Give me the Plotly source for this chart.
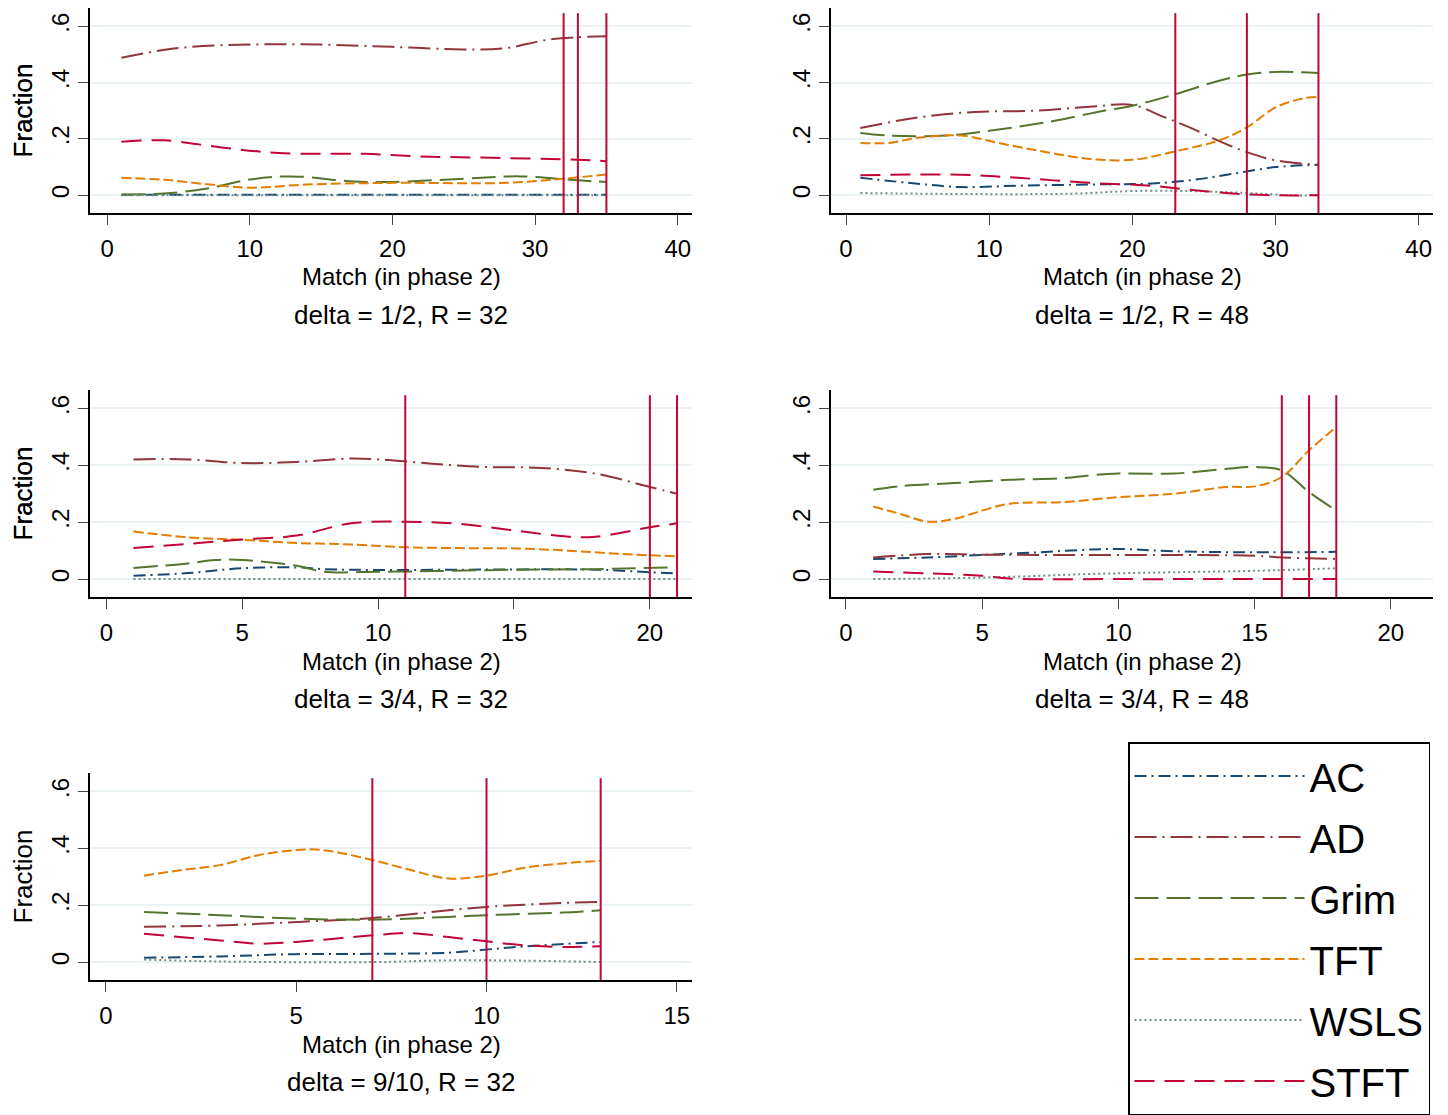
import plotly.graph_objects as go

W, H = 1448, 1115
OFF = 8  # page body margin in the browser

strategies = ["AC", "AD", "Grim", "TFT", "WSLS", "STFT"]
colors = {"AC": "#1a476f", "AD": "#90353b", "Grim": "#55752f",
          "TFT": "#e37e00", "WSLS": "#6e8e84", "STFT": "#c10534"}
dashes = {"AC": "12px,5px,2px,5px", "AD": "22px,6px,2px,6px", "Grim": "24px,8px",
          "TFT": "10px,4px", "WSLS": "2px,3px", "STFT": "20px,10px"}

titles = ["delta = 1/2, R = 32", "delta = 1/2, R = 48", "delta = 3/4, R = 32",
          "delta = 3/4, R = 48", "delta = 9/10, R = 32"]

# panel 1: delta = 1/2, R = 32
p1 = {
    "AC": ([1, 10, 20, 30, 35], [0.002, 0.002, 0.002, 0.002, 0.002]),
    "AD": ([1, 5, 10, 15, 20, 25, 28, 31, 35], [0.488, 0.523, 0.535, 0.535, 0.527, 0.518, 0.523, 0.553, 0.565]),
    "Grim": ([1, 4, 7, 10, 13, 17, 20, 25, 29, 33, 35], [0.003, 0.006, 0.024, 0.056, 0.067, 0.05, 0.047, 0.059, 0.067, 0.053, 0.047]),
    "TFT": ([1, 4, 7, 10, 14, 20, 28, 32, 35], [0.062, 0.055, 0.039, 0.027, 0.038, 0.044, 0.044, 0.059, 0.074]),
    "WSLS": ([1, 10, 20, 30, 35], [0, 0, 0, 0, 0]),
    "STFT": ([1, 4, 8, 12, 18, 22, 27, 33, 35], [0.19, 0.195, 0.17, 0.15, 0.147, 0.138, 0.133, 0.126, 0.121]),
}
# panel 2: delta = 1/2, R = 48
p2 = {
    "AC": ([1, 5, 8, 12, 18, 21, 24, 27, 30, 33], [0.062, 0.041, 0.029, 0.034, 0.039, 0.041, 0.053, 0.076, 0.1, 0.108]),
    "AD": ([1, 5, 9, 13, 17, 20, 22, 24, 26, 28, 30, 33], [0.239, 0.276, 0.296, 0.3, 0.314, 0.321, 0.282, 0.241, 0.194, 0.153, 0.124, 0.108]),
    "Grim": ([1, 3, 7, 10, 14, 18, 20, 23, 26, 28, 30, 33], [0.221, 0.212, 0.212, 0.229, 0.259, 0.3, 0.318, 0.359, 0.406, 0.429, 0.438, 0.434]),
    "TFT": ([1, 3, 5, 8, 11, 14, 17, 20, 23, 26, 28, 30, 32, 33], [0.186, 0.186, 0.204, 0.212, 0.182, 0.153, 0.129, 0.126, 0.156, 0.194, 0.241, 0.312, 0.345, 0.349]),
    "WSLS": ([1, 10, 16, 20, 24, 28, 31, 33], [0.008, 0.004, 0.006, 0.015, 0.015, 0.008, 0, 0]),
    "STFT": ([1, 8, 12, 17, 21, 24, 27, 30, 33], [0.071, 0.073, 0.062, 0.044, 0.035, 0.02, 0.006, 0, 0]),
}
# panel 3: delta = 3/4, R = 32
p3 = {
    "AC": ([1, 3, 5, 7, 8, 10, 13, 18, 20, 21], [0.012, 0.021, 0.038, 0.041, 0.035, 0.032, 0.033, 0.033, 0.024, 0.02]),
    "AD": ([1, 3, 5, 7, 9, 10, 12, 14, 16, 18, 20, 21], [0.421, 0.421, 0.408, 0.412, 0.424, 0.421, 0.406, 0.394, 0.391, 0.371, 0.324, 0.3]),
    "Grim": ([1, 3, 4, 5, 7, 8, 10, 12, 15, 18, 21], [0.039, 0.055, 0.067, 0.067, 0.047, 0.026, 0.026, 0.028, 0.033, 0.035, 0.042]),
    "TFT": ([1, 3, 5, 7, 9, 11, 13, 15, 17, 19, 21], [0.167, 0.147, 0.138, 0.127, 0.122, 0.112, 0.109, 0.108, 0.1, 0.088, 0.08]),
    "WSLS": ([1, 5, 10, 15, 21], [0, 0, 0, 0, 0]),
    "STFT": ([1, 3, 5, 7, 9, 11, 13, 15, 17, 18, 20, 21], [0.109, 0.124, 0.139, 0.153, 0.196, 0.202, 0.194, 0.171, 0.149, 0.149, 0.182, 0.196]),
}
# panel 4: delta = 3/4, R = 48
p4 = {
    "AC": ([1, 3, 5, 7, 9, 10, 12, 15, 18], [0.071, 0.076, 0.085, 0.094, 0.104, 0.106, 0.098, 0.094, 0.096]),
    "AD": ([1, 3, 5, 7, 10, 15, 16, 17, 18], [0.076, 0.088, 0.086, 0.085, 0.085, 0.082, 0.076, 0.073, 0.071]),
    "Grim": ([1, 2, 4, 6, 8, 9, 10, 12, 14, 15, 16, 17, 18], [0.314, 0.327, 0.338, 0.349, 0.355, 0.365, 0.371, 0.371, 0.388, 0.394, 0.382, 0.306, 0.241]),
    "TFT": ([1, 2, 3, 4, 5, 6, 8, 10, 12, 14, 15, 16, 17, 18], [0.255, 0.229, 0.202, 0.212, 0.241, 0.265, 0.271, 0.288, 0.3, 0.324, 0.326, 0.359, 0.453, 0.535]),
    "WSLS": ([1, 3, 6, 9, 12, 15, 18], [0, 0.002, 0.008, 0.018, 0.024, 0.029, 0.038]),
    "STFT": ([1, 3, 5, 6, 10, 14, 18], [0.027, 0.02, 0.012, 0.002, 0, 0, 0]),
}
# panel 5: delta = 9/10, R = 32
p5 = {
    "AC": ([1, 3, 5, 7, 9, 10, 11, 13], [0.015, 0.02, 0.028, 0.029, 0.033, 0.044, 0.055, 0.071]),
    "AD": ([1, 3, 5, 7, 9, 10, 12, 13], [0.124, 0.129, 0.141, 0.155, 0.182, 0.194, 0.208, 0.212]),
    "Grim": ([1, 3, 5, 7, 9, 10, 12, 13], [0.176, 0.165, 0.153, 0.149, 0.159, 0.165, 0.174, 0.182]),
    "TFT": ([1, 2, 3, 4, 5, 5.5, 6, 7, 8, 9, 10, 11, 12, 13], [0.304, 0.324, 0.341, 0.376, 0.394, 0.396, 0.388, 0.359, 0.324, 0.294, 0.304, 0.332, 0.347, 0.356]),
    "WSLS": ([1, 3, 7, 9, 11, 13], [0.009, 0.002, 0, 0.006, 0.005, 0]),
    "STFT": ([1, 3, 4, 5, 7, 8, 9, 10, 11, 12, 13], [0.1, 0.076, 0.065, 0.071, 0.094, 0.102, 0.088, 0.073, 0.059, 0.053, 0.056]),
}
panels = [p1, p2, p3, p4, p5]
vlines = [[32, 33, 35], [23, 28, 33], [11, 20, 21], [16, 17, 18], [7, 10, 13]]
x_ticks = [[0, 10, 20, 30, 40], [0, 10, 20, 30, 40], [0, 5, 10, 15, 20], [0, 5, 10, 15, 20], [0, 5, 10, 15]]
x_ranges = [[-1.2, 41.0], [-1.05, 41.0], [-0.6, 21.55], [-0.55, 21.55], [-0.42, 15.4]]

# pixel boxes in the page (left, right, top, bottom)
col_px = [(90, 692), (831, 1433)]
row_px = [(8, 213), (390, 597), (773, 980)]


def px(v):
    return min(1, max(0, (v - OFF) / W))


def py(v):
    return min(1, max(0, 1 - (v - OFF) / H))


fig = go.Figure()
font = "Arial, Liberation Sans, sans-serif"

for i, panel in enumerate(panels):
    r, c = divmod(i, 2)
    n = i + 1
    xa = "x" if n == 1 else f"x{n}"
    ya = "y" if n == 1 else f"y{n}"
    (l, rr), (t, b) = col_px[c], row_px[r]
    fig.layout[f"xaxis{'' if n == 1 else n}"] = dict(
        domain=[px(l), px(rr)], anchor=ya, range=x_ranges[i], tickvals=x_ticks[i],
        showline=True, linecolor="black", linewidth=1.5, ticks="outside", ticklen=10,
        ticklabelstandoff=3, showgrid=False, zeroline=False, automargin=False,
        tickfont=dict(size=24, color="black", family=font))
    fig.layout[f"yaxis{'' if n == 1 else n}"] = dict(
        domain=[py(b), py(t)], anchor=xa, range=[-0.063, 0.665],
        tickvals=[0, 0.2, 0.4, 0.6], ticktext=["0", ".2", ".4", ".6"], tickangle=-90,
        showline=True, linecolor="black", linewidth=1.5, ticks="outside", ticklen=10,
        showgrid=True, gridcolor="#eaf2f3", gridwidth=1.5, zeroline=False, automargin=False,
        tickfont=dict(size=24, color="black", family=font))
    for s in strategies:
        xs, ys = panel[s]
        fig.add_trace(go.Scatter(
            x=xs, y=ys, mode="lines", name=s, xaxis=xa, yaxis=ya, showlegend=(i == 0),
            legendgroup=s,
            line=dict(color=colors[s], width=2, dash=dashes[s], shape="spline", smoothing=1.0)))
    for v in vlines[i]:
        fig.add_shape(type="line", x0=v, x1=v, y0=0, y1=0.975, xref=xa, yref=f"{ya} domain",
                      line=dict(color="#c10534", width=2))
    cx = (l + rr) / 2 + 10
    fig.add_annotation(x=px(cx), y=py(b + 64), xref="paper", yref="paper", text="Match (in phase 2)",
                       xanchor="center", yanchor="middle",
                       showarrow=False, font=dict(size=24, color="black", family=font))
    fig.add_annotation(x=px(cx), y=py(b + 102), xref="paper", yref="paper", text=titles[i],
                       xanchor="center", yanchor="middle",
                       showarrow=False, font=dict(size=26, color="black", family=font))
    fig.add_annotation(x=px(22), y=py((t + b) / 2), xref="paper", yref="paper", text="Fraction",
                       xanchor="center", yanchor="middle",
                       textangle=-90, showarrow=False, font=dict(size=26, color="black", family=font))

fig.update_layout(
    width=W, height=H, margin=dict(l=0, r=0, t=0, b=0),
    paper_bgcolor="white", plot_bgcolor="white",
    legend=dict(x=px(1128), y=py(742), xanchor="left", yanchor="top",
                bordercolor="black", borderwidth=1.5, font=dict(size=40, color="black", family=font),
                itemwidth=170, tracegroupgap=6),
)

fig.write_html("out.html")
